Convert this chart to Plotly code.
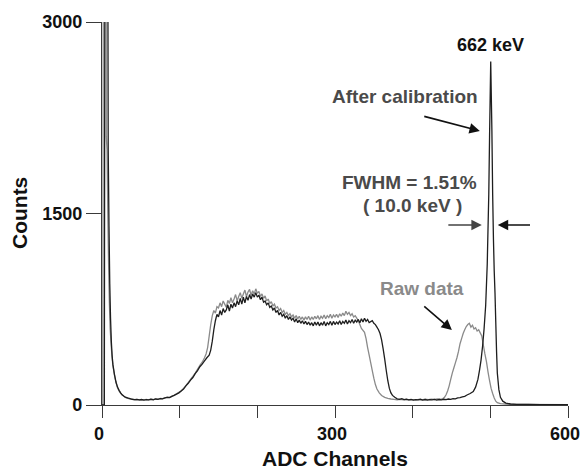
import plotly.graph_objects as go

# ---------------- data ----------------
cal_channel = [0, 3, 4, 7, 8, 9, 10, 11, 12, 13, 14, 16, 18, 20, 22, 24, 26, 28, 30, 33, 36, 39, 42, 45, 48, 51, 54, 57, 60,
               63, 66, 69, 72, 75, 78, 81, 84, 87, 90, 93, 96, 99, 102, 105, 108, 111, 114, 117, 120, 123, 126, 129, 132,
               135, 138, 140, 142, 144, 146, 148, 150, 152, 154, 156, 158, 160, 162, 164, 166, 168, 170, 172, 174, 176,
               178, 180, 182, 184, 186, 188, 190, 192, 194, 196, 198, 200, 202, 204, 206, 208, 210, 212, 214, 216, 218,
               220, 222, 224, 226, 228, 230, 232, 234, 236, 238, 240, 242, 244, 246, 248, 250, 252, 254, 256, 258, 260,
               262, 264, 266, 268, 270, 272, 274, 276, 278, 280, 282, 284, 286, 288, 290, 292, 294, 296, 298, 300, 302,
               304, 306, 308, 310, 312, 314, 316, 318, 320, 322, 324, 326, 328, 330, 332, 334, 336, 338, 340, 342, 344,
               348, 350, 352, 354, 356, 358, 360, 362, 364, 366, 368, 370, 372, 374, 377, 380, 383, 386, 389, 392, 395,
               398, 401, 404, 407, 410, 413, 416, 419, 422, 425, 428, 431, 434, 437, 440, 443, 446, 449, 452, 455, 458,
               461, 464, 467, 470, 474, 478, 481, 484, 486, 488, 490, 492, 494, 496, 498, 499, 500.5, 502, 503, 504, 505,
               506, 507, 508, 509, 511, 513, 516, 520, 526, 534, 549, 564, 600]
cal_counts = [0, 0, 5000, 5000, 2000, 1400, 950, 680, 500, 390, 320, 240, 180, 140, 115, 95, 80, 70, 62, 55, 50, 45, 42, 44,
              40, 43, 38, 42, 40, 45, 41, 47, 44, 50, 48, 55, 60, 58, 68, 75, 85, 95, 110, 125, 150, 170, 195, 215, 245,
              270, 300, 320, 345, 370, 390, 430, 500, 590, 660, 710, 690, 740, 705, 755, 725, 745, 785, 735, 790, 760,
              800, 770, 815, 785, 835, 790, 845, 800, 850, 820, 865, 830, 870, 845, 880, 845, 860, 825, 845, 805, 815,
              785, 800, 765, 775, 745, 760, 725, 740, 705, 725, 695, 710, 680, 700, 670, 690, 665, 680, 650, 675, 645,
              665, 640, 660, 635, 655, 630, 650, 625, 645, 620, 650, 625, 650, 620, 645, 625, 655, 620, 645, 630, 655,
              625, 655, 630, 650, 635, 660, 630, 655, 640, 665, 635, 660, 645, 670, 640, 665, 650, 670, 645, 675, 650,
              680, 655, 670, 645, 660, 640, 630, 610, 590, 560, 510, 440, 360, 270, 190, 130, 95, 75, 60, 48, 45, 50, 42,
              46, 40, 44, 38, 42, 40, 45, 39, 43, 38, 42, 40, 44, 39, 43, 40, 45, 42, 47, 44, 50, 48, 55, 58, 63, 68, 78,
              90, 105, 140, 200, 270, 350, 460, 600, 780, 1100, 1650, 2100, 2690, 2150, 1650, 1300, 1050, 880, 650, 420,
              250, 120, 60, 30, 15, 8, 5, 4, 3, 2]

raw_channel = [0, 1, 2, 5, 5.5, 6.5, 7.5, 8.5, 9.5, 10.5, 12, 13, 14, 16, 18, 20, 22, 24, 26, 28, 30, 33, 36, 39, 42, 45,
               48, 51, 54, 57, 60, 63, 66, 69, 72, 75, 78, 81, 84, 87, 90, 93, 96, 99, 102, 105, 108, 111, 114, 117, 120,
               123, 126, 129, 132, 134, 136, 138, 140, 142, 144, 146, 148, 150, 152, 154, 156, 158, 160, 162, 164, 166,
               168, 170, 172, 174, 176, 178, 180, 182, 184, 186, 188, 190, 192, 194, 196, 198, 200, 202, 204, 206, 208,
               210, 212, 214, 216, 218, 220, 222, 224, 226, 228, 230, 232, 234, 236, 238, 240, 242, 244, 246, 248, 250,
               252, 254, 256, 258, 260, 262, 264, 266, 268, 270, 272, 274, 276, 278, 280, 282, 284, 286, 288, 290, 292,
               294, 296, 298, 300, 302, 304, 306, 308, 310, 312, 314, 316, 318, 320, 322, 324, 326, 328, 330, 332, 334,
               338, 340, 342, 344, 346, 348, 350, 352, 354, 357, 360, 364, 368, 372, 376, 380, 384, 388, 392, 396, 400,
               404, 408, 412, 416, 420, 424, 428, 432, 436, 439, 441, 443, 445, 447, 449, 451, 453, 455, 457, 459, 461,
               463, 465, 467, 469, 471, 473, 475, 477, 479, 481, 483, 485, 487, 489, 491, 493, 495, 497, 499, 501, 503,
               505, 507, 509, 513, 523, 543, 600]
raw_counts = [0, 0, 5000, 5000, 2100, 2000, 1500, 1100, 800, 600, 450, 370, 310, 235, 175, 135, 110, 92, 78, 68, 60, 52,
              48, 44, 40, 43, 39, 42, 40, 44, 41, 46, 43, 48, 45, 52, 50, 56, 62, 60, 70, 78, 88, 100, 112, 130, 152,
              175, 200, 225, 250, 280, 310, 335, 370, 400, 450, 540, 630, 700, 740, 720, 770, 760, 800, 770, 815, 790,
              765, 820, 795, 840, 800, 830, 865, 815, 850, 880, 835, 870, 900, 850, 885, 905, 860, 895, 870, 910, 875,
              890, 850, 870, 835, 855, 815, 830, 795, 810, 775, 790, 760, 770, 740, 755, 725, 740, 710, 725, 700, 715,
              690, 705, 680, 700, 675, 695, 670, 690, 665, 690, 670, 695, 665, 690, 670, 695, 675, 700, 670, 695, 680,
              705, 675, 700, 685, 710, 680, 705, 690, 710, 685, 715, 695, 720, 700, 735, 710, 725, 700, 715, 690, 700,
              680, 660, 630, 600, 570, 520, 450, 390, 330, 270, 210, 160, 125, 95, 75, 60, 52, 47, 44, 41, 44, 40, 43,
              39, 42, 40, 44, 41, 45, 42, 46, 43, 47, 45, 50, 60, 80, 110, 150, 200, 250, 290, 330, 370, 420, 480, 520,
              560, 590, 615, 630, 640, 610, 625, 595, 605, 580, 590, 565, 540, 470, 400, 340, 260, 190, 130, 90, 55, 30,
              18, 10, 6, 4, 2]

x_tick_values = [0, 100, 200, 300, 400, 500, 600]
x_tick_labels = ["0", "", "", "300", "", "", "600"]
y_tick_values = [0, 1500, 3000]
y_tick_labels = ["0", "1500", "3000"]

FONT = "Liberation Sans, Arial, Helvetica, sans-serif"
AXIS_COLOR = "#3a3a3a"

fig = go.Figure()
fig.add_trace(go.Scatter(x=raw_channel, y=raw_counts, mode="lines",
                         line=dict(color="#8a8a8a", width=1.3, simplify=False), name="Raw data"))
fig.add_trace(go.Scatter(x=cal_channel, y=cal_counts, mode="lines",
                         line=dict(color="#1e1e1e", width=1.3, simplify=False), name="After calibration"))


def label(text, x, y, color, size=19):
    fig.add_annotation(x=x, y=y, xref="x", yref="y", text=text, showarrow=False,
                       font=dict(family=FONT, size=size, color=color, weight="bold"),
                       xanchor="center", yanchor="middle")


def arrow(x0, y0, x1, y1, color="#111111"):
    fig.add_annotation(x=x1, y=y1, ax=x0, ay=y0, xref="x", yref="y", axref="x", ayref="y",
                       text="", showarrow=True, arrowhead=2, arrowsize=1.3, arrowwidth=1.6,
                       arrowcolor=color, standoff=0, startstandoff=0)


label("662 keV", 500.6, 2820, "#111111", 18)
label("After calibration", 390, 2413, "#4a4a4a")
arrow(413, 2264, 486.5, 2146)
label("FWHM = 1.51%", 396.4, 1739, "#4a4a4a")
label("( 10.0 keV )", 400.3, 1559, "#4a4a4a")
arrow(444, 1410, 489, 1410, "#444444")
arrow(553, 1410, 509.6, 1410)
label("Raw data", 412, 909, "#8a8a8a")
arrow(413, 783, 450.5, 587)

# axis titles
fig.add_annotation(x=-0.177, y=0.5, xref="paper", yref="paper", text="Counts", showarrow=False,
                   textangle=-90, font=dict(family=FONT, size=21, color="#111111", weight="bold"),
                   xanchor="center", yanchor="middle")
fig.add_annotation(x=0.499, y=-64 / 383, xref="paper", yref="paper", text="ADC Channels", showarrow=False,
                   font=dict(family=FONT, size=21, color="#111111", weight="bold"),
                   xanchor="center", yanchor="bottom", yshift=-3)

fig.update_layout(
    width=584, height=469,
    margin=dict(l=101.7, r=15.7, t=22, b=64, autoexpand=False),
    paper_bgcolor="white", plot_bgcolor="white",
    showlegend=False,
    xaxis=dict(range=[0, 600], tickvals=x_tick_values, ticktext=x_tick_labels, automargin=False,
               ticks="outside", ticklen=12, tickwidth=1.3, tickcolor=AXIS_COLOR,
               showline=True, linecolor=AXIS_COLOR, linewidth=1.3, showgrid=False, zeroline=False,
               ticklabeloverflow="allow", ticklabelshift=-3,
               tickfont=dict(family=FONT, size=18, color="#111111", weight="bold")),
    yaxis=dict(range=[0, 3000], tickvals=y_tick_values, ticktext=y_tick_labels, automargin=False,
               ticks="outside", ticklen=15, tickwidth=1.3, tickcolor=AXIS_COLOR,
               showline=True, linecolor=AXIS_COLOR, linewidth=1.3, showgrid=False, zeroline=False,
               tickfont=dict(family=FONT, size=18, color="#111111", weight="bold")),
)

# remove the default page margin so the 584x469 figure fills the window exactly
fig.write_html("out.html", config={"displayModeBar": False},
               post_script="document.body.style.margin='0';")
